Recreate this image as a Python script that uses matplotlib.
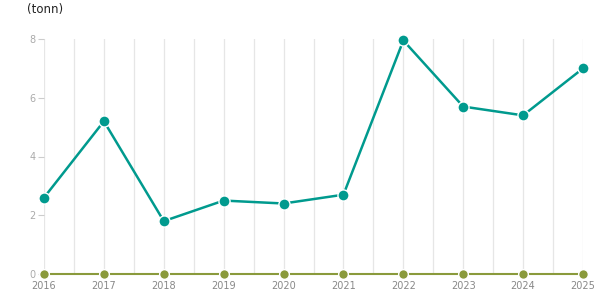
import numpy as np
import matplotlib.pyplot as plt

# Data
years = [2016, 2017, 2018, 2019, 2020, 2021, 2022, 2023, 2024, 2025]
tonn = [2.6, 5.2, 1.8, 2.5, 2.4, 2.7, 7.95, 5.7, 5.4, 7.0]
zero_series = [0, 0, 0, 0, 0, 0, 0, 0, 0, 0]
y_ticks = [0, 2, 4, 6, 8]

teal = '#009a8e'
olive = '#8a9a3c'

fig = plt.figure(figsize=(6.15, 3.05), dpi=100)
ax = fig.add_axes([44/615, 31/305, 539/615, 235/305])

# vertical grid every half year
for gx in np.arange(2016, 2025.01, 0.5):
    ax.axvline(gx, color='#e6e6e6', lw=0.9, zorder=0)

ax.plot(years, zero_series, color=olive, lw=1.5, zorder=2, clip_on=False)
ax.plot(years, zero_series, 'o', color=olive, ms=7, mec='white', mew=1.0,
        zorder=3, clip_on=False)
ax.plot(years, tonn, color=teal, lw=1.8, zorder=4, clip_on=False)
ax.plot(years, tonn, 'o', color=teal, ms=8, mec='white', mew=1.0,
        zorder=5, clip_on=False)

ax.set_xlim(2016, 2025)
ax.set_ylim(0, 8)
ax.set_xticks(years)
ax.set_xticklabels([str(y) for y in years])
ax.set_yticks(y_ticks)
for s in ax.spines.values():
    s.set_visible(False)
ax.tick_params(axis='x', length=0, pad=5, labelsize=7, labelcolor='#888888')
ax.tick_params(axis='y', length=4, width=0.8, color='#cccccc', pad=2,
               labelsize=7, labelcolor='#aaaaaa')

fig.text(27/615, 1 - 9/305, '(tonn)', fontsize=8.5, color='#222222',
         ha='left', va='center')

fig.savefig('out.png', dpi=100)
